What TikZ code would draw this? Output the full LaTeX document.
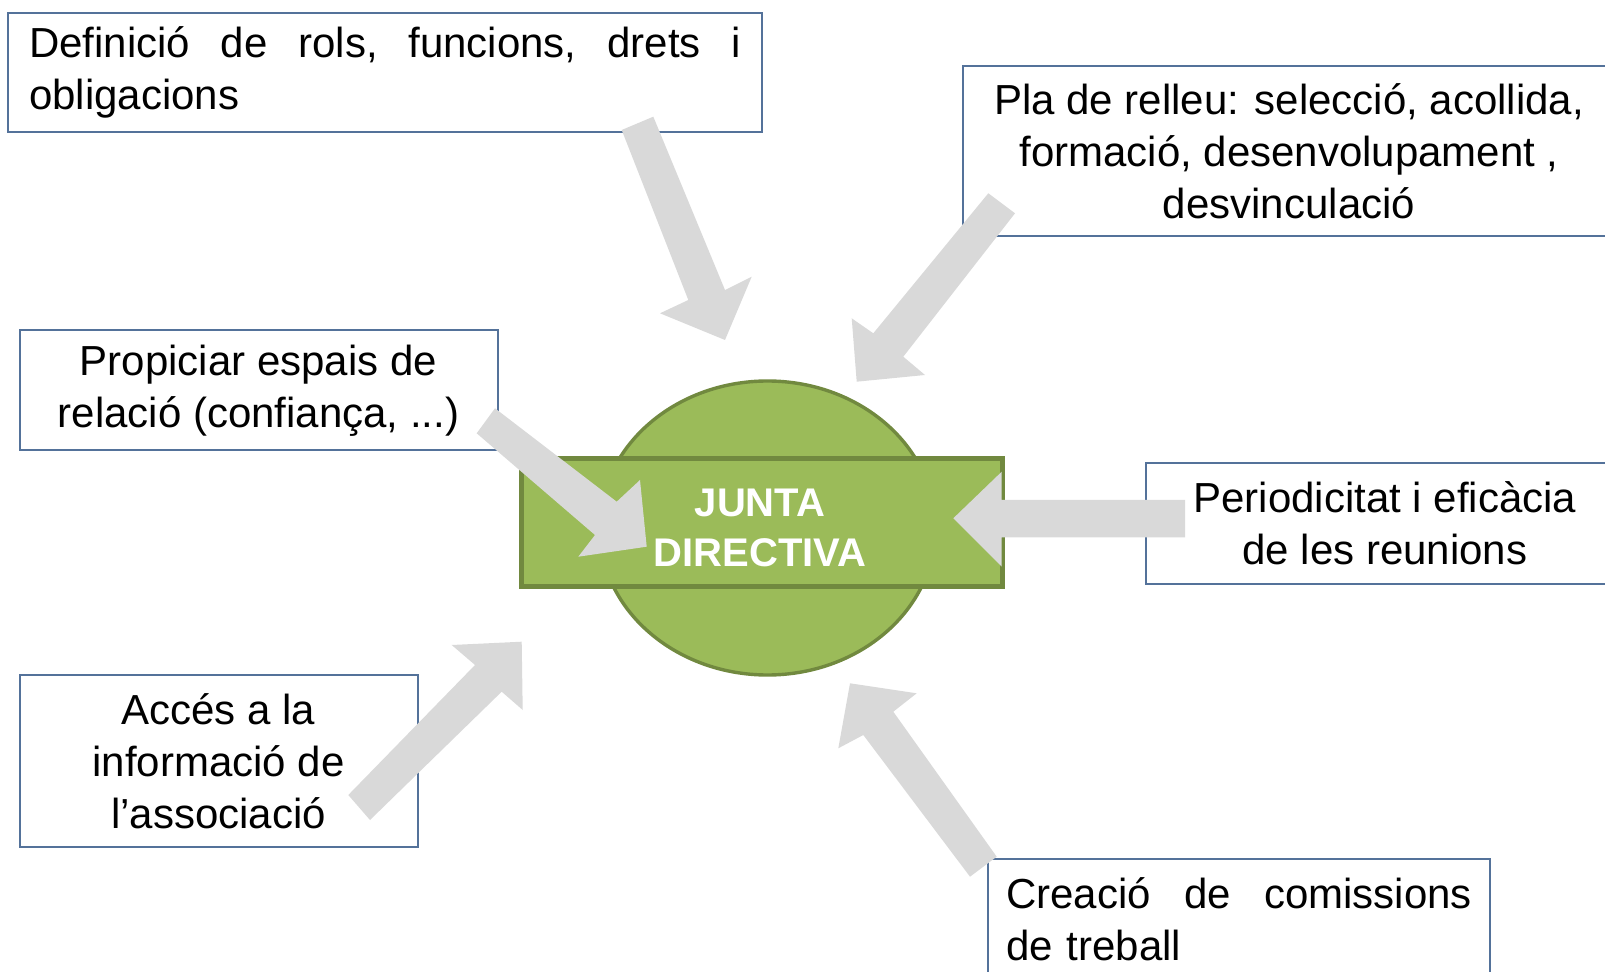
\documentclass[tikz,border=0pt]{standalone}
\usepackage{fontspec}
\setmainfont{Liberation Sans}
\usetikzlibrary{shapes.geometric}
\definecolor{boxblue}{RGB}{84,114,154}
\definecolor{arrowgray}{RGB}{217,217,217}
\definecolor{jgreen}{RGB}{155,187,89}
\definecolor{jdark}{RGB}{113,137,63}
\begin{document}
\begin{tikzpicture}[x=0.5pt,y=-0.5pt,
  box/.style={draw=boxblue, line width=1pt, fill=white, inner sep=0pt, anchor=north west,
              font=\fontsize{21}{26}\selectfont},
  garrow/.style={fill=arrowgray, draw=none}]
\useasboundingbox (0,0) rectangle (1605,972);
\clip (0,0) rectangle (1605,972);
% boxes
\node[box, minimum width=377pt, minimum height=59.5pt, text width=356pt, align=left] (b1) at (7,12)
  {\makebox[356pt][l]{Definició\hfill de\hfill rols,\hfill funcions,\hfill drets\hfill i}\\obligacions};
\node[box, minimum width=326pt, minimum height=85pt, align=center] (b2) at (962,65)
  {Pla de relleu: selecció, acollida,\\formació, desenvolupament ,\\desvinculació};
\node[box, minimum width=239pt, minimum height=60pt, align=center] (b3) at (18.5,329.5)
  {Propiciar espais de\\relació (confiança, ...)};
\node[box, minimum width=199pt, minimum height=85.75pt, align=center] (b4) at (18.5,674)
  {Accés a la\\informació de\\l’associació};
\node[box, minimum width=239pt, minimum height=60.25pt, align=center] (b5) at (1145,462)
  {Periodicitat i eficàcia\\de les reunions};
\node[box, minimum width=251pt, minimum height=60pt, text width=233pt, align=left] (b6) at (987,858)
  {\makebox[233pt][l]{Creació\hfill de\hfill comissions}\\de treball};
% centre
\node[ellipse, draw=jdark, line width=1.7pt, fill=jgreen, minimum width=168pt, minimum height=147pt, inner sep=0pt] (circ) at (767.5,528) {};
\node[draw=jdark, line width=2.5pt, fill=jgreen, minimum width=240.5pt, minimum height=63.5pt, inner sep=0pt] (jd) at (761.5,522.5) {};
\node[text=white, font=\bfseries\fontsize{20}{25}\selectfont, align=center, inner sep=0pt] (jt) at (760,528) {JUNTA\\DIRECTIVA};
% arrows
\fill[garrow] (621.7,130) -- (653.3,116.7) -- (725,290) -- (751.7,276.7) -- (725,340) -- (660,313.3) -- (688.3,300) -- cycle;
\fill[garrow] (988.3,193.3) -- (1015,213.3) -- (903.3,356.7) -- (925,375) -- (856.7,381.7) -- (851.7,318.3) -- (873.3,333.3) -- cycle;
\fill[garrow] (495,408.3) -- (616.7,501.7) -- (640,480) -- (646.7,546.7) -- (578.3,556.7) -- (595,535) -- (476.7,433.3) -- cycle;
\fill[garrow] (1185,500) -- (1001.7,500) -- (1001.7,471.7) -- (953.3,518.3) -- (1001.7,566.7) -- (1001.7,537.3) -- (1185,537.3) -- cycle;
\fill[garrow] (850,683.3) -- (916.7,693.3) -- (893.3,711.7) -- (996.7,856.7) -- (970,876.7) -- (863.3,735) -- (838.3,748.3) -- cycle;
\fill[garrow] (521.7,641.7) -- (522.7,710) -- (501.7,691.7) -- (370,820) -- (348.3,795) -- (475,665) -- (451.7,645) -- cycle;
\end{tikzpicture}
\end{document}
